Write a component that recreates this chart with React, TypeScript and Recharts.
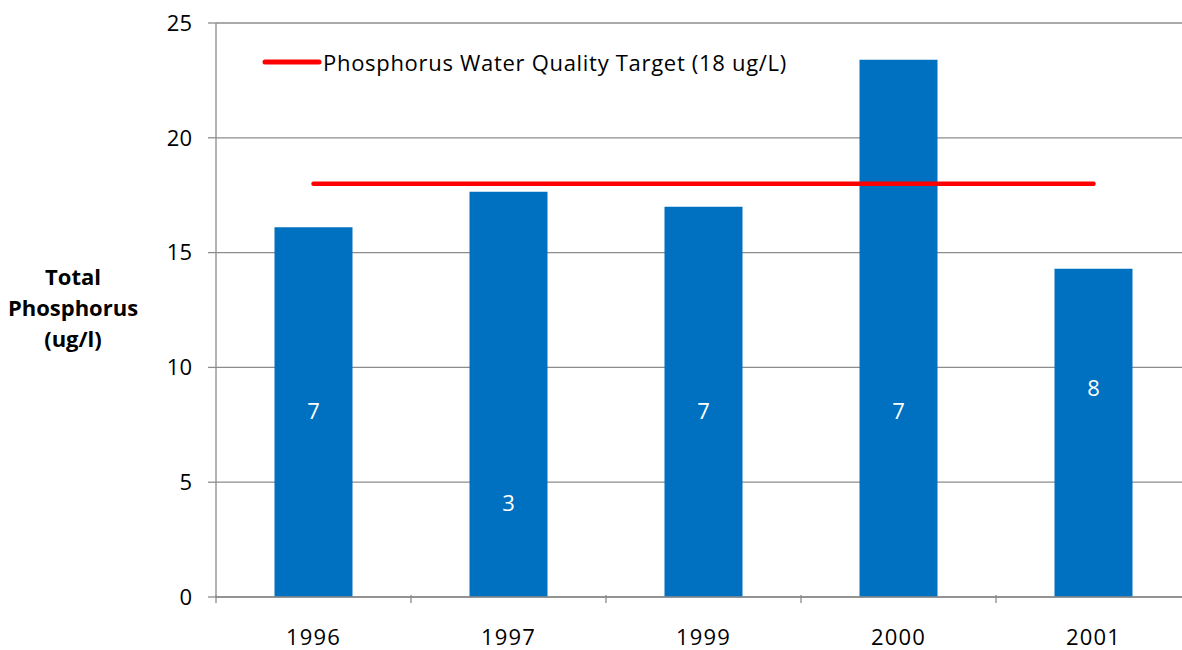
import React from "react";
import { ComposedChart, Bar, Line, XAxis, YAxis, CartesianGrid, LabelList } from "recharts";

const years = ["1996", "1997", "1999", "2000", "2001"];
const phosphorus = [16.1, 17.65, 17.0, 23.4, 14.3];
const sampleCounts = [7, 3, 7, 7, 8];
const target = [18, 18, 18, 18, 18];
const yTicks = [0, 5, 10, 15, 20, 25];
const yTitle = ["Total", "Phosphorus", "(ug/l)"];
const legendLabel = "Phosphorus Water Quality Target (18 ug/L)";

const data = years.map((y, i) => ({ year: y, tp: phosphorus[i], n: sampleCounts[i], target: target[i] }));

const FONT = "'Open Sans', sans-serif";
const FS = 22;
const LS = 0.7;
const GRAY = "#8c8c8c";

const XTick = (props: any) => {
  const { x, y, payload } = props;
  const off = payload.offset || 0;
  return (
    <g>
      <line x1={x - off} x2={x - off} y1={y - 10} y2={y - 2} stroke={GRAY} strokeWidth={1.3} />
      {payload.index === years.length - 1 && (
        <line x1={x + off} x2={x + off} y1={y - 10} y2={y - 2} stroke={GRAY} strokeWidth={1.3} />
      )}
      <text x={x} y={y + 34} dominantBaseline="middle" textAnchor="middle" fontSize={FS} fontFamily={FONT} letterSpacing={1.2} fill="#000">
        {payload.value}
      </text>
    </g>
  );
};

const YTitle = (props: any) => {
  const vb = props.viewBox || {};
  const cy = vb.y + vb.height / 2;
  return (
    <text x={73} y={cy} textAnchor="middle" fontSize={FS} fontWeight="bold" fontFamily={FONT} fill="#000">
      {yTitle.map((t, i) => (
        <tspan key={i} x={73} y={cy - 31 + i * 31} dominantBaseline="middle">{t}</tspan>
      ))}
    </text>
  );
};

export default function App() {
  return (
    <div style={{ position: "absolute", left: 0, top: 0, width: 1182, height: 650, overflow: "hidden", background: "#fff" }}>
      <ComposedChart width={1200} height={650} data={data} margin={{ top: 23, right: 9, bottom: 0, left: 0 }} barCategoryGap="30%">
        <CartesianGrid vertical={false} stroke={GRAY} strokeWidth={1.3} />
        <XAxis
          dataKey="year"
          height={53}
          axisLine={{ stroke: GRAY, strokeWidth: 1.3 }}
          tickLine={false}
          tick={<XTick />}
          interval={0}
        />
        <YAxis
          width={216}
          domain={[0, 25]}
          ticks={yTicks}
          interval={0}
          axisLine={{ stroke: GRAY, strokeWidth: 1.3 }}
          tickLine={{ stroke: GRAY, strokeWidth: 1.3 }}
          tickSize={8}
          tickMargin={16}
          tick={{ fontSize: FS, fontFamily: FONT, fill: "#000" }}
          label={<YTitle />}
        />
        <Bar dataKey="tp" fill="#0070C0" isAnimationActive={false} />
        <Line
          dataKey="n"
          stroke="none"
          dot={false}
          activeDot={false}
          isAnimationActive={false}
          legendType="none"
        >
          <LabelList dataKey="n" position="top" offset={17} fill="#fff" fontSize={FS} fontFamily={FONT} />
        </Line>
        <Line
          dataKey="target"
          stroke="#FF0000"
          strokeWidth={4.5}
          strokeLinecap="round"
          dot={false}
          activeDot={false}
          isAnimationActive={false}
        />
      </ComposedChart>
      <div style={{ position: "absolute", left: 261, top: 46, height: 32, display: "flex", alignItems: "center", fontFamily: FONT, fontSize: FS, letterSpacing: LS, color: "#000", whiteSpace: "nowrap" }}>
        <svg width={62} height={10}>
          <line x1={4} x2={58} y1={5} y2={5} stroke="#FF0000" strokeWidth={5} strokeLinecap="round" />
        </svg>
        <span>{legendLabel}</span>
      </div>
    </div>
  );
}
